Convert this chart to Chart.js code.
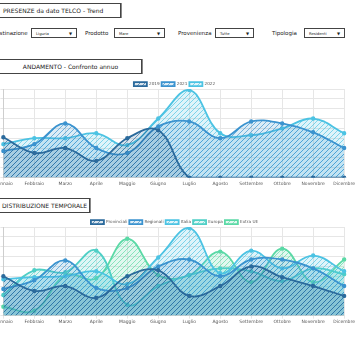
<!DOCTYPE html>
<html>
<head>
<meta charset="utf-8">
<script src="https://cdn.jsdelivr.net/npm/chart.js@4.4.0/dist/chart.umd.min.js"></script>
<style>
  body { margin: 0; width: 360px; height: 360px; overflow: hidden; background: #fff; position: relative;
         font-family: "DejaVu Sans", sans-serif; color: #222; }
  .box { position: absolute; border: 1px solid #444; box-shadow: 1px 0 0 #888; font-size: 6px; line-height: 14px; white-space: nowrap; box-sizing: border-box; }
  .lbl { position: absolute; font-size: 5.5px; white-space: nowrap; }
  .sel { position: absolute; height: 10px; border: 1px solid #444; font-size: 3.8px; line-height: 9px; padding-left: 4px; box-sizing: border-box; }
  .sel:after { content: "\25BC"; position: absolute; right: 4px; top: 0; font-size: 4px; }
  .chart { position: absolute; }
</style>
</head>
<body>
<div class="box" style="left:-3px;top:3px;width:124px;height:15px;padding-left:5px;">PRESENZE da dato TELCO - Trend</div>

<div class="lbl" style="left:-8px;top:30px;">Destinazione</div>
<div class="sel" style="left:31px;top:28px;width:46px;">Liguria</div>
<div class="lbl" style="left:85px;top:30px;">Prodotto</div>
<div class="sel" style="left:114px;top:28px;width:51px;">Mare</div>
<div class="lbl" style="left:178px;top:30px;">Provenienza</div>
<div class="sel" style="left:215px;top:28px;width:39px;">Tutte</div>
<div class="lbl" style="left:272px;top:30px;">Tipologia</div>
<div class="sel" style="left:304px;top:28px;width:41px;">Residenti</div>

<div class="box" style="left:-1px;top:59px;width:143px;height:15px;text-align:center;">ANDAMENTO - Confronto annuo</div>
<div class="chart" style="left:-7px;top:80px;width:363px;height:108px;"><canvas id="trend"></canvas></div>

<div class="box" style="left:-3px;top:198px;width:93px;height:15px;padding-left:4px;">DISTRIBUZIONE TEMPORALE</div>
<div class="chart" style="left:-7px;top:218px;width:363px;height:108px;"><canvas id="distrib"></canvas></div>

<script>
var mesi = ['Gennaio', 'Febbraio', 'Marzo', 'Aprile', 'Maggio', 'Giugno', 'Luglio', 'Agosto', 'Settembre', 'Ottobre', 'Novembre', 'Dicembre'];

// andamento - confronto annuo
var anni = ['2019', '2021', '2022'];
var valori2019 = [41, 25, 30, 17, 40, 48, 0, 0, 0, 0, 0, 0];
var valori2021 = [27, 34, 55, 30, 25, 52, 57, 40, 57, 55, 46, 30];
var valori2022 = [34, 40, 40, 45, 33, 60, 89, 45, 43, 50, 60, 45];

// distribuzione temporale
var provenienze = ['Provinciali', 'Regionali', 'Italia', 'Europa', 'Extra UE'];
var provinciali = [40, 25, 30, 18, 40, 46, 20, 30, 50, 39, 30, 20];
var regionali = [27, 36, 56, 28, 28, 50, 57, 40, 57, 57, 48, 30];
var italia = [37, 39, 40, 45, 32, 59, 89, 43, 66, 48, 61, 45];
var europa = [21, 46, 44, 66, 11, 30, 41, 48, 45, 35, 48, 42];
var extraUe = [9, 5, 41, 38, 78, 41, 41, 65, 34, 68, 34, 57];

var ticksY = [0, 10, 20, 30, 40, 50, 60, 70, 80, 90];

var coloriAnni = ['#2b6a9c', '#3b93cf', '#4cc3e3'];
var coloriProv = ['#2b6a9c', '#3b93cf', '#4cc3e3', '#4fcfc6', '#5bd9a6'];

// fake hachure fill, like the rough style
function hatch(color) {
    var c = document.createElement('canvas');
    c.width = 5;
    c.height = 5;
    var ctx = c.getContext('2d');
    ctx.globalAlpha = 0.18;
    ctx.fillStyle = color;
    ctx.fillRect(0, 0, 5, 5);
    ctx.globalAlpha = 0.75;
    ctx.strokeStyle = color;
    ctx.lineWidth = 0.9;
    ctx.beginPath();
    ctx.moveTo(0, 5); ctx.lineTo(5, 0);
    ctx.moveTo(-1, 1); ctx.lineTo(1, -1);
    ctx.moveTo(4, 6); ctx.lineTo(6, 4);
    ctx.stroke();
    return ctx.createPattern(c, 'repeat');
}

function serie(label, data, color) {
    return {
        label: label,
        data: data,
        borderColor: color,
        backgroundColor: hatch(color),
        pointBackgroundColor: color,
        pointBorderColor: color,
        pointRadius: 1.3,
        borderWidth: 1.8,
        tension: 0.4,
        fill: 'origin'
    };
}

function opzioni() {
    return {
        responsive: true,
        maintainAspectRatio: false,
        animation: false,
        layout: { padding: 0 },
        plugins: {
            legend: {
                position: 'top',
                maxHeight: 9,
                labels: { boxWidth: 13, boxHeight: 4, padding: 2, color: '#555', font: { size: 4.2, family: 'DejaVu Sans' } }
            },
            tooltip: { enabled: false }
        },
        scales: {
            x: {
                offset: false,
                grid: { color: '#e6e6e6', tickLength: 3 },
                ticks: { color: '#555', font: { size: 4.5, family: 'DejaVu Sans' }, padding: 1, maxRotation: 0, autoSkip: false }
            },
            y: {
                min: 0,
                max: 90,
                afterBuildTicks: function(axis) {
                    axis.ticks = ticksY.map(function(v) { return { value: v }; });
                },
                grid: { color: '#e6e6e6', tickLength: 3 },
                ticks: { color: '#555', font: { size: 4, family: 'DejaVu Sans' }, padding: 1 }
            }
        }
    };
}

new Chart(document.getElementById('trend'), {
    type: 'line',
    data: {
        labels: mesi,
        datasets: [
            serie(anni[0], valori2019, coloriAnni[0]),
            serie(anni[1], valori2021, coloriAnni[1]),
            serie(anni[2], valori2022, coloriAnni[2])
        ]
    },
    options: opzioni()
});

new Chart(document.getElementById('distrib'), {
    type: 'line',
    data: {
        labels: mesi,
        datasets: [
            serie(provenienze[0], provinciali, coloriProv[0]),
            serie(provenienze[1], regionali, coloriProv[1]),
            serie(provenienze[2], italia, coloriProv[2]),
            serie(provenienze[3], europa, coloriProv[3]),
            serie(provenienze[4], extraUe, coloriProv[4])
        ]
    },
    options: opzioni()
});
</script>
</body>
</html>
